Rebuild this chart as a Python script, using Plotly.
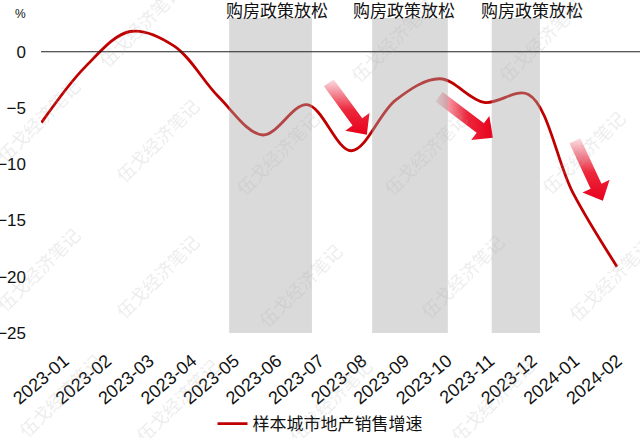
import plotly.graph_objects as go
import numpy as np

# ---------------- data ----------------
months = ["2023-01", "2023-02", "2023-03", "2023-04", "2023-05", "2023-06", "2023-07",
          "2023-08", "2023-09", "2023-10", "2023-11", "2023-12", "2024-01", "2024-02"]
sales_growth = [-6.3, -1.3, 1.8, 0.5, -4.0, -7.4, -4.7, -8.8, -4.3, -2.4, -4.5, -3.8, -12.5, -19.1]
series_name = "样本城市地产销售增速"

easing_label = "购房政策放松"
easing_start = [4.24, 7.47, 10.17]
easing_end = [6.11, 9.18, 11.26]
easing_label_x = [5.32, 8.19, 11.08]

arrow_tail_x = [6.49, 8.98, 12.05]
arrow_tail_y = [-2.76, -4.0, -7.91]
arrow_tip_x = [7.35, 10.2, 12.68]
arrow_tip_y = [-7.38, -7.64, -13.24]
arrow_gradient = ["vertical", "horizontal", "vertical"]

y_ticks = [0, -5, -10, -15, -20, -25]
watermark = "伍戈经济笔记"
watermark_px = [(140, 25), (392, 40), (540, 40), (38, 120), (157, 140), (277, 153),
                (425, 153), (583, 152), (38, 269), (157, 276), (300, 285), (462, 276),
                (610, 279), (60, 395), (177, 400), (330, 400), (492, 400)]

# ---------------- layout constants ----------------
W, H = 640, 438
ML, MR, MT, MB = 41, 0, 18, 105
PW, PH = W - ML - MR, H - MT - MB
XR = [-0.01, 13.52]
XR_LABELS = [-0.55, 13.53]   # category-label axis (labels are spaced slightly tighter)
YR = [-25, 3]


def to_px(x, y):
    return (ML + (x - XR[0]) / (XR[1] - XR[0]) * PW,
            MT + (YR[1] - y) / (YR[1] - YR[0]) * PH)


def to_data(px, py):
    return (XR[0] + (px - ML) / PW * (XR[1] - XR[0]),
            YR[1] - (py - MT) / PH * (YR[1] - YR[0]))


def arrow_polygon(tx, ty, hx, hy, w=6.0, hw=15.0, hl=16.0):
    T = np.array(to_px(tx, ty))
    P = np.array(to_px(hx, hy))
    u = (P - T) / np.linalg.norm(P - T)
    n = np.array([-u[1], u[0]])
    B = P - u * hl
    pts = [T + n * w, B + n * w, B + n * hw, P, B - n * hw, B - n * w, T - n * w, T + n * w]
    xs, ys = zip(*[to_data(p[0], p[1]) for p in pts])
    return list(xs), list(ys)


x_idx = list(range(len(months)))

fig = go.Figure()
fig.add_trace(go.Scatter(
    x=x_idx, y=sales_growth, mode="lines", name=series_name,
    line=dict(color="#C00000", width=2.8, shape="spline", smoothing=1.0),
    hoverinfo="skip"))

# invisible trace that carries the category-label axis
fig.add_trace(go.Scatter(x=x_idx, y=[None] * len(x_idx), xaxis="x2", mode="lines",
                         showlegend=False, hoverinfo="skip"))

for i in range(len(arrow_tail_x)):
    ax, ay = arrow_polygon(arrow_tail_x[i], arrow_tail_y[i], arrow_tip_x[i], arrow_tip_y[i])
    if arrow_gradient[i] == "vertical":
        cs = [[0, "rgb(232,0,28)"], [0.45, "rgb(236,40,60)"], [1, "rgb(250,225,230)"]]
    else:
        cs = [[0, "rgb(250,225,230)"], [0.55, "rgb(236,40,60)"], [1, "rgb(232,0,28)"]]
    fig.add_trace(go.Scatter(
        x=ax, y=ay, mode="lines", fill="toself", line=dict(width=0),
        fillgradient=dict(type=arrow_gradient[i], colorscale=cs),
        showlegend=False, hoverinfo="skip"))

shapes = []
for s, e in zip(easing_start, easing_end):
    shapes.append(dict(type="rect", xref="x", yref="paper", x0=s, x1=e, y0=0, y1=1,
                       fillcolor="rgba(168,168,168,0.42)", line=dict(width=0), layer="above"))
shapes.append(dict(type="line", xref="paper", yref="y", x0=0, x1=1, y0=0, y1=0,
                   line=dict(color="#222222", width=1.2), layer="above"))

annotations = []
for lx in easing_label_x:
    annotations.append(dict(x=lx, y=(MT + PH - 9) / PH, xref="x", yref="paper",
                            text=easing_label, showarrow=False,
                            font=dict(size=17, color="#111111",
                                      family="Noto Sans CJK SC, sans-serif"),
                            xanchor="center", yanchor="middle"))
annotations.append(dict(x=(20 - ML) / PW, y=(MT + PH - 14) / PH, xref="paper", yref="paper",
                        text="%", showarrow=False,
                        font=dict(size=12, color="#111111", family="Liberation Sans, Arial"),
                        xanchor="center", yanchor="middle"))
for (wx, wy) in watermark_px:
    annotations.append(dict(x=(wx - ML) / PW, y=(MT + PH - wy) / PH, xref="paper", yref="paper",
                            text=watermark, showarrow=False, textangle=-45,
                            font=dict(size=18, color="rgba(170,170,170,0.22)",
                                      family="Noto Sans CJK SC, sans-serif"),
                            xanchor="center", yanchor="middle"))

fig.update_layout(
    width=W, height=H,
    margin=dict(l=ML, r=MR, t=MT, b=MB, autoexpand=False),
    paper_bgcolor="white", plot_bgcolor="white",
    font=dict(family="Liberation Sans, Arial, Noto Sans CJK SC", color="#111111"),
    xaxis=dict(range=XR, showticklabels=False, showgrid=False, zeroline=False,
               showline=False, ticks="", automargin=False, fixedrange=True),
    xaxis2=dict(range=XR_LABELS, overlaying="x", anchor="y", side="bottom",
                tickmode="array", tickvals=x_idx, ticktext=months,
                tickangle=-40, showgrid=False, zeroline=False, showline=False,
                tickfont=dict(size=18, color="#111111"), ticks="",
                ticklabelstandoff=13, ticklabeloverflow="allow", automargin=False,
                fixedrange=True),
    yaxis=dict(range=YR, tickmode="array", tickvals=y_ticks, showgrid=False,
               zeroline=False, showline=False, ticks="", ticklabelstandoff=14,
               tickfont=dict(size=17, color="#111111"), automargin=False, fixedrange=True),
    legend=dict(orientation="h", x=0.5, xanchor="center", xref="container",
                y=1 - 424 / H, yref="container", yanchor="middle",
                font=dict(size=17, color="#111111", family="Noto Sans CJK SC, sans-serif"),
                bgcolor="rgba(0,0,0,0)"),
    shapes=shapes, annotations=annotations, showlegend=True,
)

fig.write_html("out.html", config={"displayModeBar": False, "staticPlot": True},
               post_script="document.body.style.margin='0px';document.body.style.overflow='hidden';")
